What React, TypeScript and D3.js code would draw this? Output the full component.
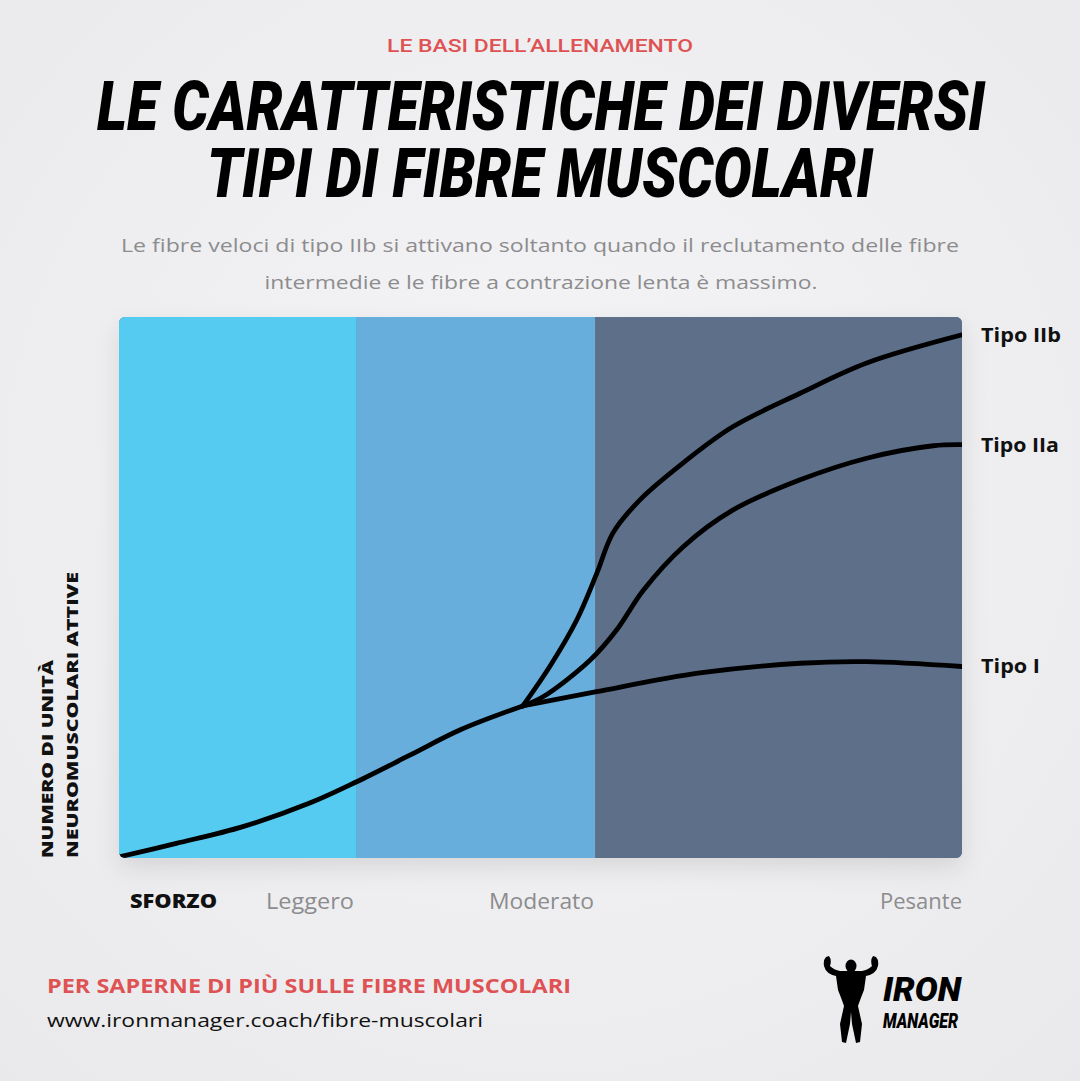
import React from "react";
import * as d3 from "d3";

const W = 1080;
const H = 1081;

// Bands of effort (x domain 0..100)
const bandNames = ["Leggero", "Moderato", "Pesante"];
const bandStarts = [0, 28.2, 56.5];
const bandEnds = [28.2, 56.5, 100];
const bandColors = ["#56CBF1", "#67AEDC", "#5E7089"];

// Shared rising trunk (ends at the split point)
const sharedX = [0, 6.8, 14.7, 22.7, 28.2, 34.5, 40.5, 47.9];
const sharedY = [0.2, 2.7, 5.8, 10.2, 14.1, 19.0, 23.7, 28.1];

// Branches after the split
const tipoIX = [56.5, 68.9, 80.8, 88.7, 100];
const tipoIY = [30.7, 34.2, 36.0, 36.3, 35.4];

const tipoIIaX = [50.3, 55.9, 59.0, 62.2, 66.9, 72.8, 80.8, 88.7, 96.6, 100];
const tipoIIaY = [29.8, 36.6, 42.1, 49.5, 57.5, 64.3, 69.9, 73.9, 76.2, 76.4];

const tipoIIbX = [51.1, 54.3, 56.7, 58.6, 61.8, 66.9, 72.8, 80.8, 88.7, 100];
const tipoIIbY = [35.4, 44.0, 52.7, 60.1, 66.2, 73.0, 79.7, 85.9, 91.5, 96.7];

const seriesNames = ["Tipo IIb", "Tipo IIa", "Tipo I"];

const xTickLabels = ["Leggero", "Moderato", "Pesante"];

const plot = { left: 119, right: 962, top: 317, bottom: 858 };

export default function App() {
  const x = d3.scaleLinear().domain([0, 100]).range([plot.left, plot.right]);
  const y = d3.scaleLinear().domain([0, 100]).range([plot.bottom, plot.top]);

  const trunk: [number, number][] = sharedX.map((v, i) => [v, sharedY[i]]);
  const split = trunk[trunk.length - 1];
  const mk = (bx: number[], by: number[]) => {
    const pts: [number, number][] = [split];
    bx.forEach((v, i) => pts.push([v, by[i]]));
    return pts;
  };
  const series = [
    { name: seriesNames[0], pts: mk(tipoIIbX, tipoIIbY), w: 80 },
    { name: seriesNames[1], pts: mk(tipoIIaX, tipoIIaY), w: 78 },
    { name: seriesNames[2], pts: mk(tipoIX, tipoIY), w: 59 },
  ];
  const line = d3
    .line<[number, number]>()
    .x((d) => x(d[0]))
    .y((d) => y(d[1]))
    .curve(d3.curveCatmullRom.alpha(0.5));

  const sans = "'Open Sans', 'Noto Sans', sans-serif";
  const cond = "Roboto, 'Liberation Sans Narrow', sans-serif";

  const xLabelPos = [
    { text: xTickLabels[0], x: 310, w: 88 },
    { text: xTickLabels[1], x: 541.5, w: 105 },
    { text: xTickLabels[2], x: 921, w: 82 },
  ];

  return (
    <svg
      width={W}
      height={H}
      style={{ position: "absolute", left: 0, top: 0, display: "block" }}
    >
      <defs>
        <radialGradient id="bg" cx="50%" cy="45%" r="75%">
          <stop offset="0%" stopColor="#F5F5F7" />
          <stop offset="100%" stopColor="#E9E9EB" />
        </radialGradient>
        <filter id="shadow" x="-10%" y="-10%" width="120%" height="125%">
          <feDropShadow dx="0" dy="10" stdDeviation="12" floodColor="#000" floodOpacity="0.10" />
        </filter>
        <clipPath id="plotClip">
          <rect
            x={plot.left}
            y={plot.top}
            width={plot.right - plot.left}
            height={plot.bottom - plot.top}
            rx={6}
          />
        </clipPath>
      </defs>
      <rect width={W} height={H} fill="url(#bg)" />

      {/* Header */}
      <text
        x={540}
        y={52}
        textAnchor="middle"
        fontFamily={cond}
        fontWeight={500}
        fontSize={18}
        fill="#DF5253"
        textLength={306}
        lengthAdjust="spacingAndGlyphs"
      >
        LE BASI DELL’ALLENAMENTO
      </text>
      <text
        x={541}
        y={130}
        textAnchor="middle"
        fontFamily={cond}
        fontWeight={900}
        fontStyle="italic"
        fontSize={68}
        fill="#000"
        textLength={888}
        lengthAdjust="spacingAndGlyphs"
      >
        LE CARATTERISTICHE DEI DIVERSI
      </text>
      <text
        x={540}
        y={197}
        textAnchor="middle"
        fontFamily={cond}
        fontWeight={900}
        fontStyle="italic"
        fontSize={68}
        fill="#000"
        textLength={666}
        lengthAdjust="spacingAndGlyphs"
      >
        TIPI DI FIBRE MUSCOLARI
      </text>
      <text
        x={540}
        y={252}
        textAnchor="middle"
        fontFamily={sans}
        fontSize={19}
        fill="#8C8C8E"
        textLength={838}
        lengthAdjust="spacingAndGlyphs"
      >
        Le fibre veloci di tipo IIb si attivano soltanto quando il reclutamento delle fibre
      </text>
      <text
        x={541}
        y={289}
        textAnchor="middle"
        fontFamily={sans}
        fontSize={19}
        fill="#8C8C8E"
        textLength={553}
        lengthAdjust="spacingAndGlyphs"
      >
        intermedie e le fibre a contrazione lenta è massimo.
      </text>

      {/* Chart */}
      <rect
        x={plot.left}
        y={plot.top}
        width={plot.right - plot.left}
        height={plot.bottom - plot.top}
        rx={6}
        fill="#5E7089"
        filter="url(#shadow)"
      />
      <g clipPath="url(#plotClip)">
        {bandNames.map((b, i) => (
          <rect
            key={b}
            x={x(bandStarts[i])}
            y={plot.top}
            width={x(bandEnds[i]) - x(bandStarts[i])}
            height={plot.bottom - plot.top}
            fill={bandColors[i]}
          />
        ))}
        <path
          d={line(trunk) || ""}
          fill="none"
          stroke="#000"
          strokeWidth={4.8}
          strokeLinecap="round"
          strokeLinejoin="round"
        />
        {series.map((s) => (
          <path
            key={s.name}
            d={line(s.pts) || ""}
            fill="none"
            stroke="#000"
            strokeWidth={4.8}
            strokeLinecap="round"
            strokeLinejoin="round"
          />
        ))}
      </g>

      {/* Series labels */}
      {series.map((s) => {
        const last = s.pts[s.pts.length - 1];
        return (
          <text
            key={s.name}
            x={981}
            y={y(last[1]) + 7}
            fontFamily={sans}
            fontWeight={700}
            fontSize={19}
            fill="#111"
            textLength={s.w}
            lengthAdjust="spacingAndGlyphs"
          >
            {s.name}
          </text>
        );
      })}

      {/* Y axis title */}
      <g fontFamily={sans} fontWeight={800} fontSize={16} fill="#111">
        <text transform={`translate(53, ${plot.bottom}) rotate(-90)`} textLength={198} lengthAdjust="spacingAndGlyphs">
          NUMERO DI UNITÀ
        </text>
        <text transform={`translate(78, ${plot.bottom}) rotate(-90)`} textLength={286} lengthAdjust="spacingAndGlyphs">
          NEUROMUSCOLARI ATTIVE
        </text>
      </g>

      {/* X axis labels */}
      <text x={130} y={908} fontFamily={sans} fontWeight={800} fontSize={19} fill="#111" textLength={87} lengthAdjust="spacingAndGlyphs">
        SFORZO
      </text>
      {xLabelPos.map((l) => (
        <text
          key={l.text}
          x={l.x}
          y={909}
          textAnchor="middle"
          fontFamily={sans}
          fontSize={21}
          fill="#8C8C8E"
          textLength={l.w}
          lengthAdjust="spacingAndGlyphs"
        >
          {l.text}
        </text>
      ))}

      {/* Footer */}
      <text x={47} y={993} fontFamily={sans} fontWeight={700} fontSize={20} fill="#DF5253" textLength={524} lengthAdjust="spacingAndGlyphs">
        PER SAPERNE DI PIÙ SULLE FIBRE MUSCOLARI
      </text>
      <text x={47} y={1027} fontFamily={sans} fontSize={19} fill="#111" textLength={436} lengthAdjust="spacingAndGlyphs">
        www.ironmanager.coach/fibre-muscolari
      </text>

      {/* Logo */}
      <g fill="#000">
        <ellipse cx={851} cy={966} rx={5.5} ry={6.5} />
        <path d="M836,976 Q826,974 824,966 Q823,960 826,957 L829,956 Q832,960 830,966 Q834,970 840,971 L862,971 Q868,970 872,966 Q870,960 873,956 L876,957 Q879,960 878,966 Q876,974 866,976 L864,990 Q860,1000 858,1006 L862,1024 L860,1042 L856,1043 L852,1024 L851,1012 L850,1024 L846,1043 L842,1042 L840,1024 L844,1006 Q842,1000 838,990 Z" />
        <text x={883} y={1001} fontFamily={cond} fontWeight={900} fontStyle="italic" fontSize={34} textLength={78} lengthAdjust="spacingAndGlyphs">
          IRON
        </text>
        <text x={883} y={1028} fontFamily={cond} fontWeight={900} fontStyle="italic" fontSize={21} textLength={75} lengthAdjust="spacingAndGlyphs">
          MANAGER
        </text>
      </g>
    </svg>
  );
}
